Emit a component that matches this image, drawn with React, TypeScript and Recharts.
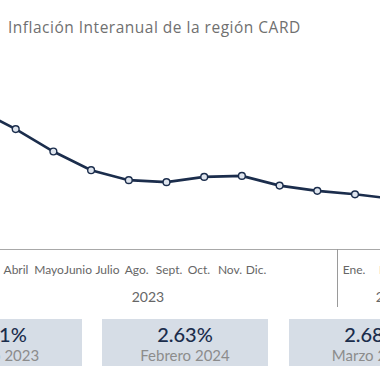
import React from "react";
import { LineChart, Line, XAxis, YAxis } from "recharts";

const periods = [
  "Marzo 2023", "Abril 2023", "Mayo 2023", "Junio 2023", "Julio 2023",
  "Agosto 2023", "Septiembre 2023", "Octubre 2023", "Noviembre 2023",
  "Diciembre 2023", "Enero 2024", "Febrero 2024", "Marzo 2024",
];
const inflation = [6.21, 5.43, 4.53, 3.78, 3.38, 3.3, 3.51, 3.55, 3.16, 2.95, 2.81, 2.63, 2.68];

const labels2023 = ["Abril", "Mayo", "Junio", "Julio", "Ago.", "Sept.", "Oct.", "Nov.", "Dic."];
const labels2024 = ["Ene.", "Feb."];
const years = ["2023", "2024"];
const highlighted = [0, 11, 12];

const NAVY = "#1b2d4c";
const FONT = "Lato, 'Open Sans', sans-serif";

// centres of the month labels in the table under the chart
const labelX2023 = [16, 49, 78, 107.5, 136.7, 169, 199, 230, 256];
const labelX2024 = [354, 390];
const yearX = [148, 392];
const boxLeft = [-84, 102, 289];

const cellStyle = (x: number, top: number, size: number): React.CSSProperties => ({
  position: "absolute",
  left: x - 30,
  width: 60,
  top,
  textAlign: "center",
  fontSize: size,
  color: "#666",
  whiteSpace: "nowrap",
});

export default function App() {
  const data = periods.map((p, i) => ({ periodo: p, valor: inflation[i] }));

  return (
    <div
      style={{
        position: "absolute",
        left: 0,
        top: 0,
        width: 380,
        height: 380,
        overflow: "hidden",
        background: "#fff",
        fontFamily: FONT,
      }}
    >
      <div
        style={{
          position: "absolute",
          left: 8,
          top: 16,
          fontSize: 15.5,
          letterSpacing: 0.5,
          fontFamily: "'Open Sans', sans-serif",
          color: "#707070",
          whiteSpace: "nowrap",
        }}
      >
        Inflación Interanual de la región CARD
      </div>

      <div style={{ position: "absolute", left: -31.7, top: 80.1 }}>
        <LineChart
          width={472.4}
          height={144.5}
          data={data}
          margin={{ top: 10, right: 10, bottom: 10, left: 10 }}
        >
          <XAxis dataKey="periodo" hide />
          <YAxis domain={[2, 7]} hide />
          <Line
            type="linear"
            dataKey="valor"
            stroke={NAVY}
            strokeWidth={2.6}
            dot={{ r: 3.4, fill: "#dfe5ee", stroke: NAVY, strokeWidth: 1.4 }}
            isAnimationActive={false}
          />
        </LineChart>
      </div>

      <div style={{ position: "absolute", left: 0, top: 249, width: 380, height: 1, background: "#a8a8a8" }} />
      <div style={{ position: "absolute", left: 337, top: 249, width: 1, height: 58, background: "#9a9a9a" }} />

      {labels2023.map((l, i) => (
        <div key={l} style={cellStyle(labelX2023[i], 262, 12)}>
          {l}
        </div>
      ))}
      {labels2024.map((l, i) => (
        <div key={l} style={cellStyle(labelX2024[i], 262, 12)}>
          {l}
        </div>
      ))}
      {years.map((y, i) => (
        <div key={y} style={cellStyle(yearX[i], 288, 14)}>
          {y}
        </div>
      ))}

      {highlighted.map((idx, i) => (
        <div
          key={idx}
          style={{
            position: "absolute",
            left: boxLeft[i],
            top: 319,
            width: 166,
            height: 47,
            background: "#d6dde6",
            textAlign: "center",
          }}
        >
          <div style={{ fontSize: 20, fontWeight: 500, color: NAVY, marginTop: 3, lineHeight: "24px" }}>
            {inflation[idx].toFixed(2)}%
          </div>
          <div style={{ fontSize: 15, color: "#8c8c8c", lineHeight: "18px" }}>{periods[idx]}</div>
        </div>
      ))}
    </div>
  );
}
